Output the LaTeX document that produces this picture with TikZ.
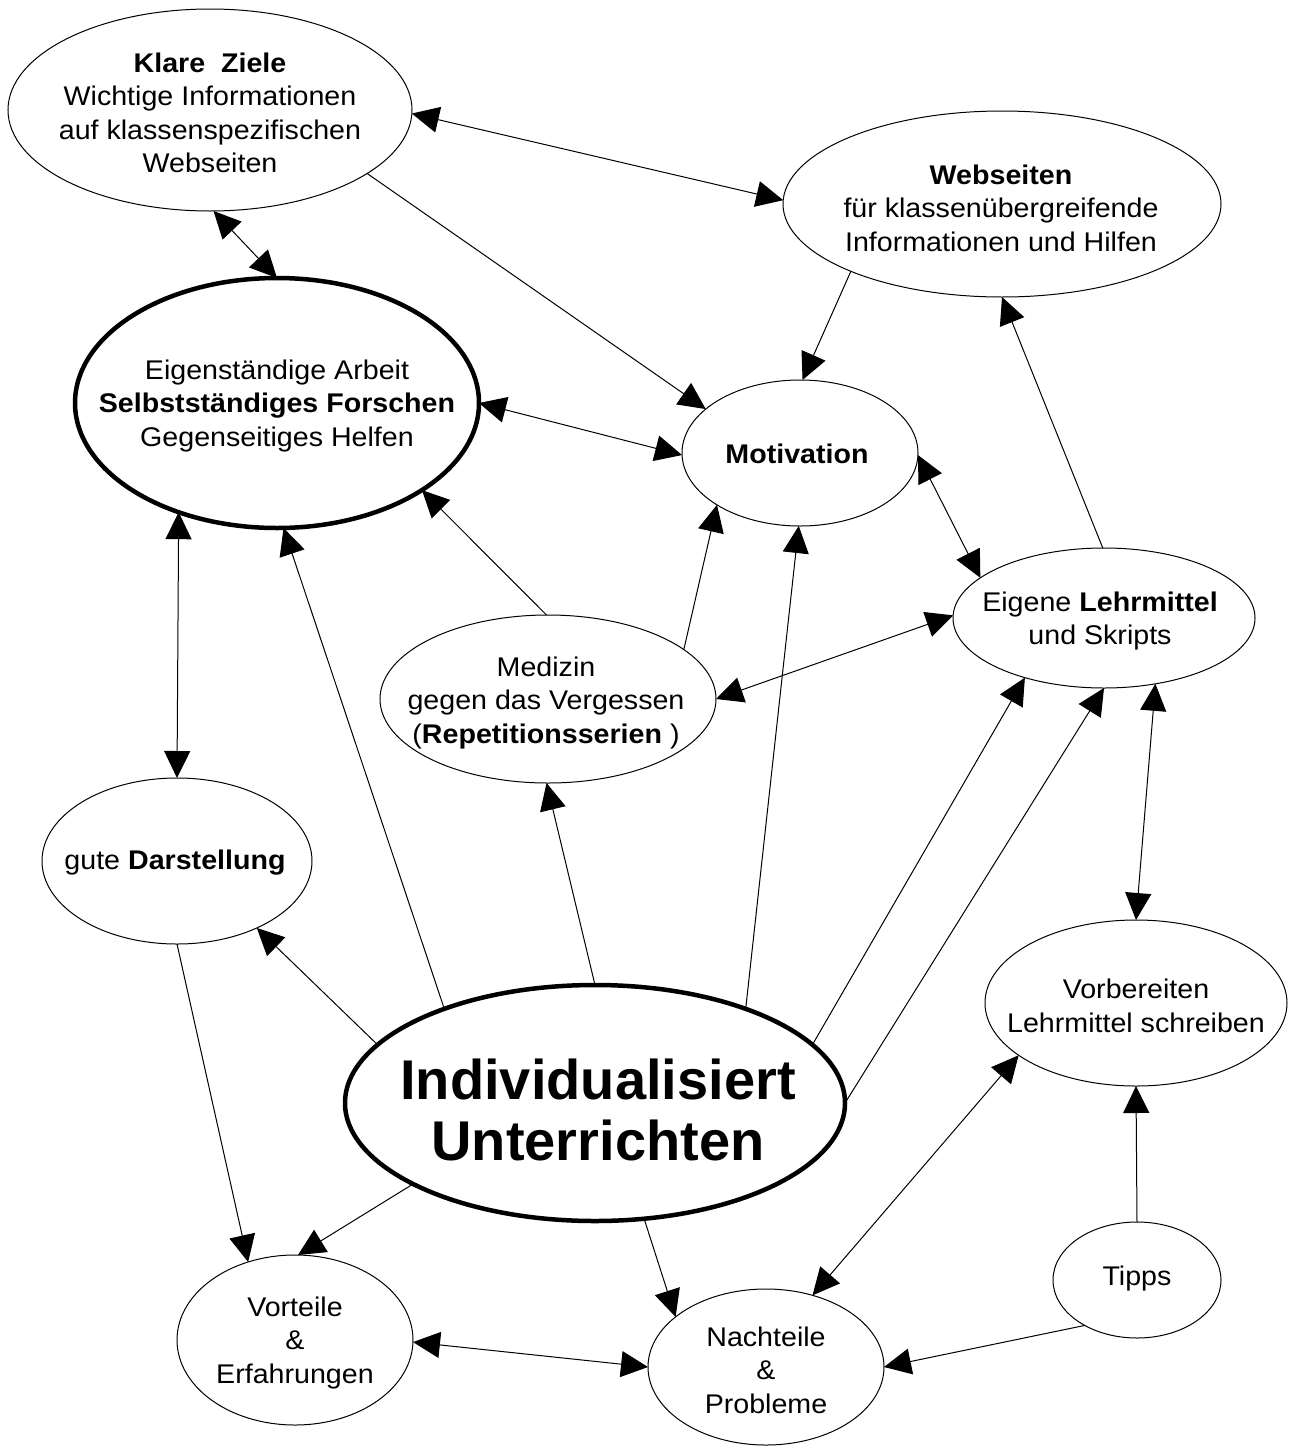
\documentclass[tikz,border=0pt]{standalone}
\usepackage{fontspec}
\setmainfont{Liberation Sans}[FakeStretch=1.06]
\newfontfamily\bigfont{Liberation Sans}
\usetikzlibrary{arrows.meta,shapes.geometric}
\begin{document}
\begin{tikzpicture}[x=1pt,y=-1pt,
  ell/.style={draw, ellipse, line width=1pt, inner sep=0pt, outer sep=0pt},
  thickell/.style={ell, line width=4.5pt},
  txt/.style={align=center, inner sep=0pt, font=\fontsize{27}{33.5}\selectfont},
  bigtxt/.style={align=center, inner sep=0pt, font=\bigfont\bfseries\fontsize{56}{61}\selectfont},
  one/.style={line width=1pt, -{Triangle[length=27pt,width=26pt]}},
  both/.style={line width=1pt, {Triangle[length=27pt,width=26pt]}-{Triangle[length=27pt,width=26pt]}},
]
\useasboundingbox (0,0) rectangle (1292,1446);

% ellipses
\node[ell, minimum width=404pt, minimum height=202pt] (k) at (210,110) {};
\node[ell, minimum width=438pt, minimum height=186pt] (w) at (1002,204) {};
\node[thickell, minimum width=404pt, minimum height=250pt] (e) at (277,403) {};
\node[ell, minimum width=236pt, minimum height=146pt] (m) at (800,453) {};
\node[ell, minimum width=302pt, minimum height=140pt] (l) at (1104,618) {};
\node[ell, minimum width=336pt, minimum height=168pt] (d) at (548,699) {};
\node[ell, minimum width=270pt, minimum height=166pt] (g) at (177,861) {};
\node[ell, minimum width=302pt, minimum height=166pt] (v) at (1136,1003) {};
\node[thickell, minimum width=500pt, minimum height=236pt] (i) at (595,1103) {};
\node[ell, minimum width=168pt, minimum height=116pt] (t) at (1137,1280) {};
\node[ell, minimum width=236pt, minimum height=170pt] (a) at (295,1340) {};
\node[ell, minimum width=236pt, minimum height=156pt] (n) at (766,1367) {};

% texts
\node[txt] (kt) at (210,113) {\textbf{Klare\ \ Ziele}\\Wichtige\ Informationen\\auf klassenspezifischen\\Webseiten};
\node[txt] (wt) at (1001,208) {\textbf{Webseiten}\\für klassenübergreifende\\Informationen und Hilfen};
\node[txt] (et) at (277,406) {Eigenständige Arbeit\\\textbf{Selbstständiges Forschen}\\Gegenseitiges Helfen};
\node[txt] (mt) at (797,454) {\textbf{Motivation}};
\node[txt] (lt) at (1100,621) {Eigene \textbf{Lehrmittel}\\und Skripts};
\node[txt] (dt) at (546,703) {Medizin\\gegen das Vergessen\\(\textbf{Repetitionsserien} )};
\node[txt] (gt) at (175,863) {gute \textbf{Darstellung}};
\node[txt] (vt) at (1136,1006) {Vorbereiten\\Lehrmittel schreiben};
\node[bigtxt] (it) at (598,1110) {Individualisiert\\Unterrichten};
\node[txt] (tt) at (1137,1279) {Tipps};
\node[txt] (at) at (295,1343) {Vorteile\\\&\\Erfahrungen};
\node[txt] (nt) at (766,1370) {Nachteile\\\&\\Probleme};

% connectors
\draw[both] (k.-1) -- (w.179);
\draw[both] (k.-88) -- (e.90);
\draw[one] (k.-22) -- (m.155);
\draw[one] (w.204) -- (m.88);
\draw[both] (e.0) -- (m.181);
\draw[one] (l.91) -- (w.-90);
\draw[both] (m.-1) -- (l.162);
\draw[one] (d.91) -- (e.-31);
\draw[one] (d.20) -- (m.212);
\draw[both] (l.179) -- (d.0);
\draw[both] (e.228) -- (g.90);
\draw[one] (i.148) -- (e.-87);
\draw[one] (i.90) -- (d.-91);
\draw[one] (i.32) -- (m.-91);
\draw[one] (i.15) -- (l.217.5);
\draw[one] (i.0) -- (l.-90);
\draw[one] (i.165) -- (g.-40);
\draw[one] (g.-90) -- (a.121);
\draw[one] (i.204) -- (a.88);
\draw[one] (i.-67.5) -- (n.151.5);
\draw[both] (l.-52) -- (v.90);
\draw[both] (v.204) -- (n.57);
\draw[one] (t.90) -- (v.-90);
\draw[one] (t.221) -- (n.0);
\draw[both] (a.-1) -- (n.180);
\end{tikzpicture}
\end{document}
